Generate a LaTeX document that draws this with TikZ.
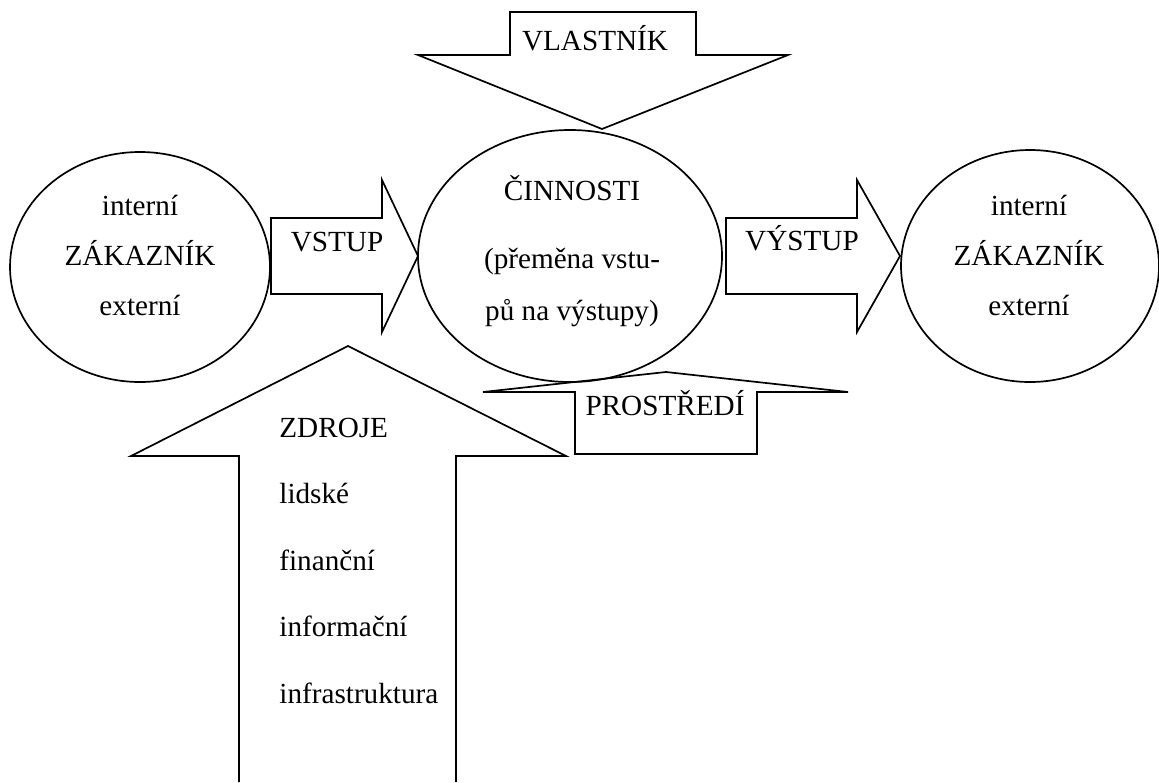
\documentclass[tikz,border=0pt]{standalone}
\usepackage{fontspec}
\setmainfont{Liberation Serif}
\usetikzlibrary{shapes.geometric}
\begin{document}
\begin{tikzpicture}[x=0.5pt,y=-0.5pt,
  shape line/.style={draw=black,line width=0.85pt,line join=miter},
  oval/.style={ellipse,draw=black,line width=0.85pt,inner sep=0pt},
  lbl/.style={font=\fontsize{14.6}{17}\selectfont,inner sep=0pt,anchor=base},
  lbll/.style={lbl,anchor=base west}]
\useasboundingbox (0,0) rectangle (1159,782);

% ellipses
\node[oval,minimum width=130pt,minimum height=115pt] (zl) at (140,267) {};
\node[oval,minimum width=152pt,minimum height=126pt] (cin) at (570,256) {};
\node[oval,minimum width=129pt,minimum height=116pt] (zr) at (1030,266) {};

% ellipse texts
\node[lbl] (zl1) at (140,215) {interní};
\node[lbl] (zl2) at (140,265) {ZÁKAZNÍK};
\node[lbl] (zl3) at (140,315) {externí};
\node[lbl] (zr1) at (1029,215) {interní};
\node[lbl] (zr2) at (1029,265) {ZÁKAZNÍK};
\node[lbl] (zr3) at (1029,315) {externí};
\node[lbl] (c1) at (572,200) {ČINNOSTI};
\node[lbl] (c2) at (572,268) {(přeměna vstu-};
\node[lbl] (c3) at (572,320) {pů na výstupy)};

% VSTUP arrow
\draw[shape line] (271,218) -- (382,218) -- (382,180) -- (418,256) -- (382,332) -- (382,294) -- (271,294) -- cycle;
\node[lbl] (vstup) at (337,251) {VSTUP};

% VYSTUP arrow
\draw[shape line] (726,218) -- (857,218) -- (857,180) -- (900,256) -- (857,332) -- (857,294) -- (726,294) -- cycle;
\node[lbl] (vystup) at (802,250) {VÝSTUP};

% VLASTNIK arrow (down)
\draw[shape line] (510,12) -- (696,12) -- (696,55) -- (788,55) -- (602,129) -- (418,55) -- (510,55) -- cycle;
\node[lbl] (vlast) at (595,50) {VLASTNÍK};

% PROSTREDI arrow (up)
\draw[shape line] (575,454) -- (575,392) -- (483,392) -- (666,372) -- (848,392) -- (757,392) -- (757,454) -- cycle;
\node[lbl] (prost) at (665,415) {PROSTŘEDÍ};

% ZDROJE arrow (up, cut at bottom)
\draw[shape line] (239,782) -- (239,456) -- (131,456) -- (348,346) -- (566,456) -- (456,456) -- (456,782);
\node[lbll] (zd1) at (279,437) {ZDROJE};
\node[lbll] (zd2) at (279,503) {lidské};
\node[lbll] (zd3) at (279,570) {finanční};
\node[lbll] (zd4) at (279,636) {informační};
\node[lbll] (zd5) at (279,703) {infrastruktura};
\end{tikzpicture}
\end{document}
